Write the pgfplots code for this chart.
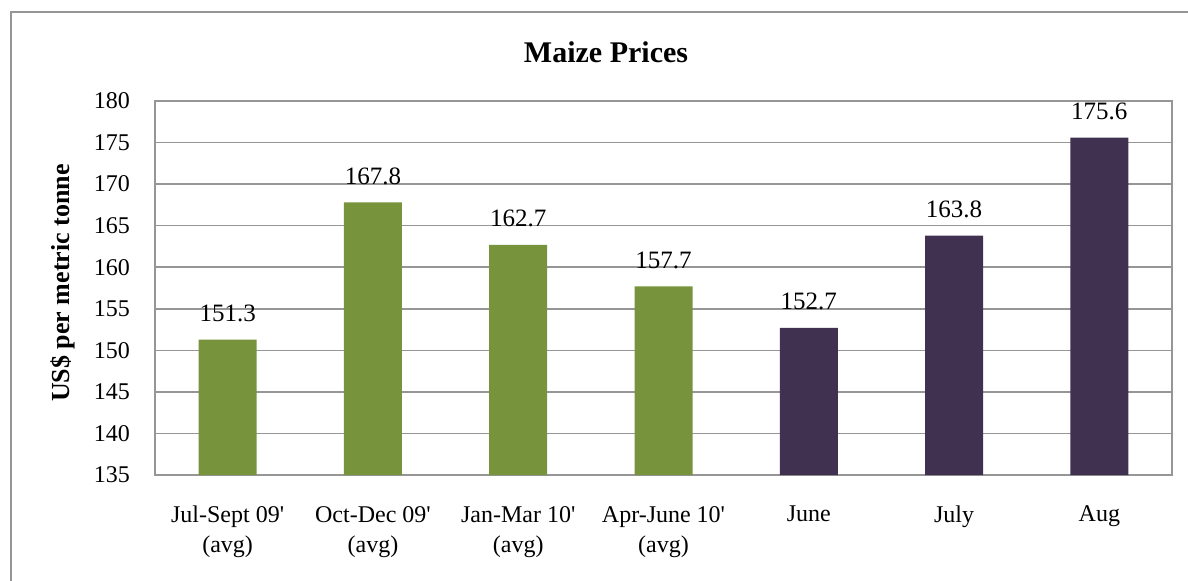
\documentclass[border=0pt]{standalone}
\usepackage{pgfplots}
\pgfplotsset{compat=1.18}
\usepackage{fontspec}
\setmainfont{Liberation Serif}
\definecolor{bargreen}{HTML}{77933C}
\definecolor{barpurple}{HTML}{403151}
\definecolor{gridgray}{HTML}{969696}
\begin{document}
\begin{tikzpicture}
\useasboundingbox (-77.5pt,-52.5pt) rectangle (516.5pt,237.5pt);
\draw[gridgray, line width=0.8pt] (-72pt,-70pt) rectangle (530pt,231.5pt);
\begin{axis}[
  at={(0pt,0pt)}, anchor=south west,
  scale only axis,
  width=508.5pt, height=187pt,
  xmin=-0.5, xmax=6.5,
  ymin=135, ymax=180,
  ytick={135,140,...,180},
  xtick={0,1,2,3,4,5,6},
  xticklabels={{Jul-Sept 09\textquotesingle\\(avg)},{Oct-Dec 09\textquotesingle\\(avg)},{Jan-Mar 10\textquotesingle\\(avg)},{Apr-June 10\textquotesingle\\(avg)},June,July,Aug},
  xticklabel style={align=center, font=\fontsize{12}{15}\selectfont, anchor=north, yshift=-12pt},
  yticklabel style={font=\fontsize{12}{13}\selectfont, xshift=-9pt},
  /pgf/number format/assume math mode=true,
  major tick length=0pt,
  ymajorgrids,
  grid style={gridgray, line width=0.8pt},
  axis line style={gridgray, line width=0.8pt},
  ybar, bar width=29pt, bar shift=0pt,
  nodes near coords,
  nodes near coords style={font=\fontsize{12.5}{13}\selectfont, text=black, anchor=base, yshift=9pt, /pgf/number format/fixed, /pgf/number format/precision=1, /pgf/number format/fixed zerofill},
  clip=false,
]
\addplot[fill=bargreen, draw=none] coordinates {(0,151.3) (1,167.8) (2,162.7) (3,157.7)};
\addplot[fill=barpurple, draw=none] coordinates {(4,152.7) (5,163.8) (6,175.6)};
\end{axis}
\node[font=\fontsize{15}{16}\selectfont\bfseries, anchor=center] at (225.5pt,211.5pt) {Maize Prices};
\node[font=\fontsize{13}{14}\selectfont\bfseries, anchor=center, rotate=90] at (-46pt,96pt) {US\$ per metric tonne};
\end{tikzpicture}
\end{document}
